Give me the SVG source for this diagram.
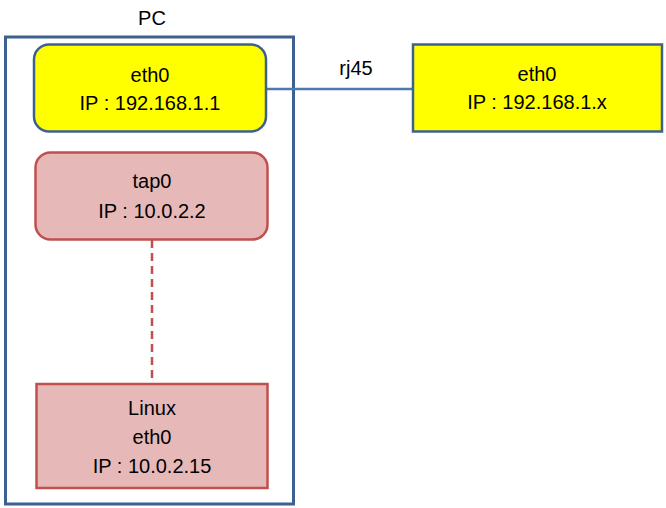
<svg xmlns="http://www.w3.org/2000/svg" width="666" height="508" viewBox="0 0 666 508">
<style>
text{font-family:"Liberation Sans",Arial,sans-serif;font-size:20px;fill:#000;text-anchor:middle;dominant-baseline:central}
.yel{fill:#ffff00;stroke:#3c6190;stroke-width:2.5}
.pink{fill:#e6b9b8;stroke:#c0504d;stroke-width:2.5}
</style>
<rect width="666" height="508" fill="#fff"/>
<g id="pc">
<rect x="5.5" y="37" width="288" height="467" fill="none" stroke="#3c6190" stroke-width="3"/>
<text x="152" y="18">PC</text>
</g>
<g id="connectors">
<line x1="266" y1="89" x2="412" y2="89" stroke="#4a7ab0" stroke-width="2.5"/>
<text x="356" y="68">rj45</text>
<line x1="152" y1="240" x2="152" y2="383" stroke="#c0504d" stroke-width="2.5" stroke-dasharray="8,5"/>
</g>
<g id="pc-eth0">
<rect class="yel" x="34" y="44.5" width="232" height="87" rx="15"/>
<text x="150" y="75">eth0</text>
<text x="150" y="103">IP : 192.168.1.1</text>
</g>
<g id="remote-eth0">
<rect class="yel" x="413" y="44.5" width="249" height="87"/>
<text x="537" y="74">eth0</text>
<text x="537" y="102">IP : 192.168.1.x</text>
</g>
<g id="tap0">
<rect class="pink" x="35.5" y="152.5" width="232" height="87" rx="15"/>
<text x="152" y="181">tap0</text>
<text x="152" y="211">IP : 10.0.2.2</text>
</g>
<g id="linux-eth0">
<rect class="pink" x="36.5" y="384" width="231" height="104"/>
<text x="152" y="408">Linux</text>
<text x="152" y="437">eth0</text>
<text x="152" y="466">IP : 10.0.2.15</text>
</g>
</svg>
